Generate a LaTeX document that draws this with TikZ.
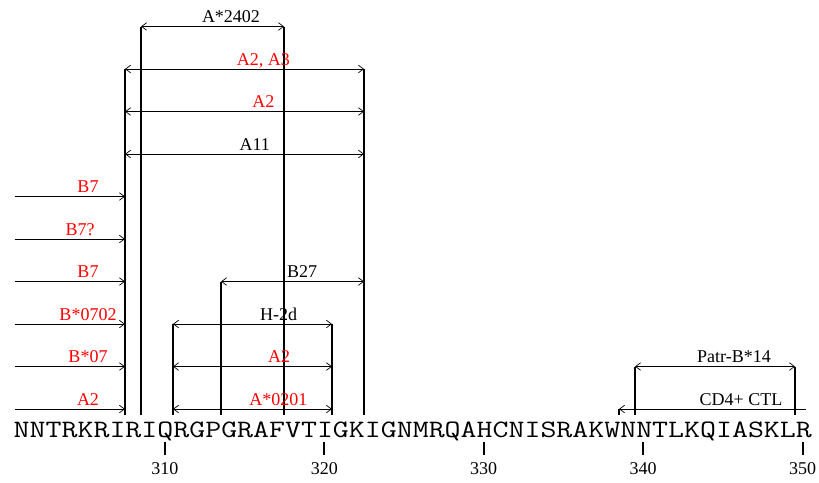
\documentclass[tikz,border=0pt]{standalone}
\usepackage{fontspec}
\setmainfont{Liberation Serif}
\usetikzlibrary{arrows.meta}
\definecolor{labred}{RGB}{255,0,0}
\newcommand\bxpos[1]{round(13.5+15.94*#1)}
% both-ended epitope: id, k1, k2, y, label, colour, label x
\newcommand\epitope[7]{%
  \coordinate (#1l) at ({\bxpos{#2}},#4);
  \coordinate (#1r) at ({\bxpos{#3}},#4);
  \draw[vline] (#1l) -- (#1l |- bot);
  \draw[vline] (#1r) -- (#1r |- bot);
  \draw[epi,<->] (#1l) -- (#1r);
  \node[lab,text=#6] (#1t) at (#7,{#4-4}) {#5};
}
% epitope starting left of the sequence: id, y, label, label x
\newcommand\leftepitope[4]{%
  \coordinate (#1l) at (14.5,#2);
  \coordinate (#1r) at ({\bxpos{7}},#2);
  \draw[vline] (#1r) -- (#1r |- bot);
  \draw[epi,->] (#1l) -- (#1r);
  \node[lab,text=labred] (#1t) at (#4,{#2-4}) {#3};
}
\begin{document}
\begin{tikzpicture}[x=1pt,y=-1pt,
  >={Straight Barb[length=5pt,width=7.5pt]},
  vline/.style={line width=2pt},
  epi/.style={line width=0.7pt},
  tickline/.style={line width=2pt},
  lab/.style={font=\fontsize{18}{18}\selectfont, anchor=base, inner sep=0pt}]
\useasboundingbox (0,0) rectangle (819,482);
\coordinate (bot) at (0,415);

\node[anchor=base west, inner sep=0pt, xscale=1.2398, transform shape,
  font=\ttfamily\fontsize{25}{25}\selectfont]
  (seq) at (13.5,437) {NNTRKRIRIQRGPGRAFVTIGKIGNMRQAHCNISRAKWNNTLKQIASKLR};

\epitope{e1}{8}{17}{26.5}{A*2402}{black}{231}
\epitope{e2}{7}{22}{69}{A2, A3}{labred}{263.3}
\epitope{e3}{7}{22}{111.5}{A2}{labred}{263.3}
\epitope{e4}{7}{22}{154}{A11}{black}{254.7}

\leftepitope{f1}{196.5}{B7}{88}
\leftepitope{f2}{239}{B7?}{80}
\leftepitope{f3}{281.5}{B7}{88}
\leftepitope{f4}{324}{B*0702}{88}
\leftepitope{f5}{366.5}{B*07}{88}
\leftepitope{f6}{409}{A2}{88}

\epitope{e5}{13}{22}{281.5}{B27}{black}{302}
\epitope{e6}{10}{20}{324}{H-2d}{black}{278.7}
\epitope{e7}{10}{20}{366.5}{A2}{labred}{279}
\epitope{e8}{10}{20}{409}{A*0201}{labred}{278.3}
\epitope{e9}{39}{49}{366.5}{Patr-B*14}{black}{734}

% CD4+ CTL, running past the end of the sequence
\coordinate (cdl) at ({\bxpos{38}},409);
\coordinate (cdr) at (806,409);
\draw[vline] (cdl) -- (cdl |- bot);
\draw[epi,<-] (cdl) -- (cdr);
\node[lab] (cdt) at (741,405) {CD4+ CTL};

% position ticks and numbers
\foreach \n in {310,320,330,340,350}{
  \coordinate (t\n a) at ({round(13.5+15.94*(\n-300-0.5))},441.5);
  \coordinate (t\n b) at ({round(13.5+15.94*(\n-300-0.5))},455);
  \draw[tickline] (t\n a) -- (t\n b);
  \node[lab] (n\n) at ({13.5+15.94*(\n-300-0.5)},474) {\n};
}
\end{tikzpicture}
\end{document}
